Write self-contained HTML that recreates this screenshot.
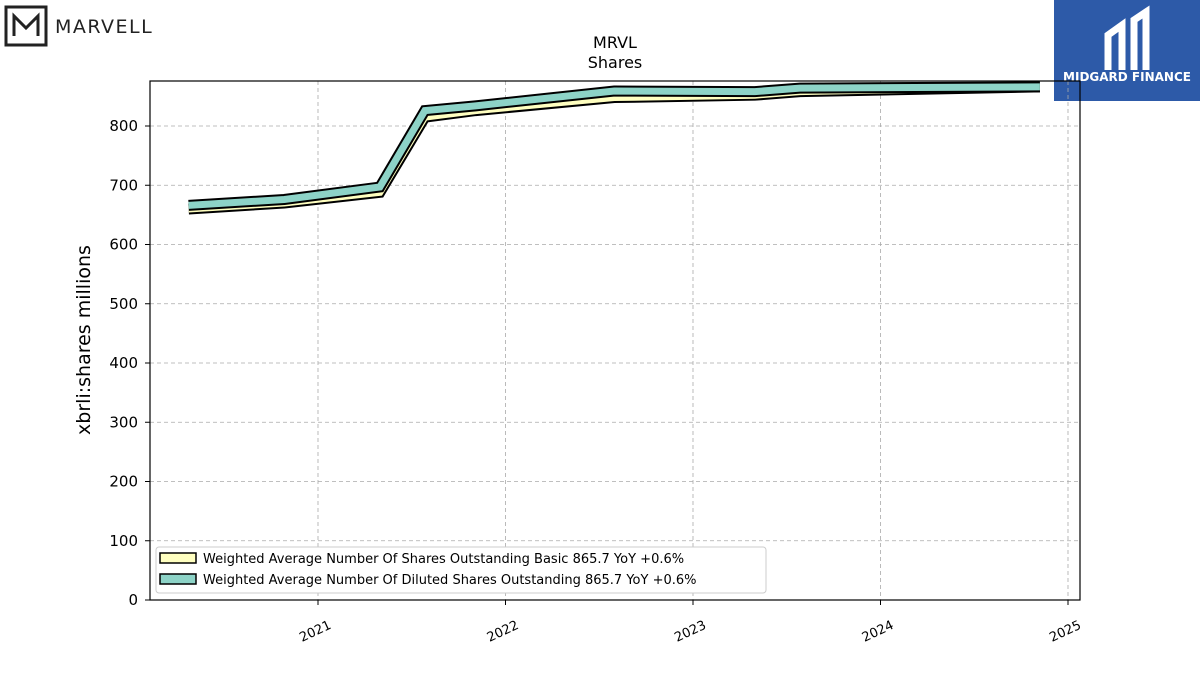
<!DOCTYPE html>
<html><head><meta charset="utf-8"><style>
body{margin:0;background:#fff;font-family:"Liberation Sans","DejaVu Sans",sans-serif}
</style></head><body>
<svg width="1200" height="675" xmlns="http://www.w3.org/2000/svg" font-family="DejaVu Sans, Liberation Sans, sans-serif">
<g>
<rect x="6" y="7" width="40" height="38" fill="none" stroke="#222" stroke-width="3"/>
<path d="M14 36 V16 L26 28 L38 16 V36" fill="none" stroke="#222" stroke-width="3"/>
<text x="55" y="33" font-size="19" letter-spacing="1.5" fill="#222">MARVELL</text>
</g>
<g>
<rect x="1054" y="0" width="146" height="101" fill="#2d5aa8"/>
<path d="M1108 70 V35 L1122 25 V70 M1134 70 V20 L1146 12 V70" stroke="#fff" stroke-width="7" fill="none"/>
<text x="1127" y="81" font-size="12" font-weight="bold" fill="#fff" text-anchor="middle">MIDGARD FINANCE</text>
</g>
<text x="615" y="48" font-size="16" text-anchor="middle">MRVL</text>
<text x="615" y="68" font-size="16" text-anchor="middle">Shares</text>
<g id="grid"></g>
<g id="lines"></g>
<rect x="150" y="81" width="930" height="519" fill="none" stroke="#000" stroke-width="1.2"/>
<g id="ticks"></g>
<text transform="translate(90,340) rotate(-90)" font-size="19" text-anchor="middle">xbrli:shares millions</text>
<g>
<rect x="156" y="547" width="610" height="46" rx="3" fill="#fff" stroke="#ccc"/>
<rect x="160" y="553" width="36" height="10" fill="#ffffc0" stroke="#000" stroke-width="1.5"/>
<text x="203" y="563" font-size="13">Weighted Average Number Of Shares Outstanding Basic  865.7 YoY +0.6%</text>
<rect x="160" y="574" width="36" height="10" fill="#8dd3c7" stroke="#000" stroke-width="1.5"/>
<text x="203" y="584" font-size="13">Weighted Average Number Of Diluted Shares Outstanding  865.7 YoY +0.6%</text>
</g>
</svg>
<script>
const dates=[2020.31,2020.82,2021.33,2021.57,2021.84,2022.58,2023.33,2023.57,2024.85];
const basic=[660,670,688,815,826,848,852,858,866];
const diluted=[666,676,697,826,834,859,858,864,866];
const yTicks=[0,100,200,300,400,500,600,700,800];
const xTicks=[2021,2022,2023,2024,2025];
const X=v=>318+(v-2021)*187.5, Y=v=>600-v*0.5925;
const ns="http://www.w3.org/2000/svg";
function mk(t,a,p){const e=document.createElementNS(ns,t);for(const k in a)e.setAttribute(k,a[k]);p.appendChild(e);return e;}
const g=document.getElementById('grid'),tk=document.getElementById('ticks'),ln=document.getElementById('lines');
yTicks.forEach(v=>{
 const l=mk('line',{x1:150,x2:1080,y1:Y(v),y2:Y(v),stroke:'#aaa','stroke-dasharray':'4,3','stroke-width':0.8},g);
 
 
 mk('line',{x1:145,x2:150,y1:Y(v),y2:Y(v),stroke:'#000'},tk);
 const t=mk('text',{x:138,y:Y(v)+5,'font-size':15,'text-anchor':'end'},tk);t.textContent=v;
 
 
});
xTicks.forEach(v=>{
 const l=mk('line',{x1:X(v),x2:X(v),y1:81,y2:600,stroke:'#aaa','stroke-dasharray':'4,3','stroke-width':0.8},g);
 
 
 mk('line',{x1:X(v),x2:X(v),y1:600,y2:605,stroke:'#000'},tk);
 const t=mk('text',{x:X(v)+14,y:628,'font-size':13,'text-anchor':'end',transform:`rotate(-25 ${X(v)+14} 628)`},tk);t.textContent=v;
 
 
});
[[basic,'#ffffc0','line-basic'],[diluted,'#8dd3c7','line-diluted']].forEach(([s,c,n])=>{
 const d=s.map((v,i)=>(i?'L':'M')+X(dates[i])+' '+Y(v)).join(' ');
 const grp=mk('g',{},ln);
 
 
 mk('path',{d:d,fill:'none',stroke:'#000','stroke-width':11,'stroke-linejoin':'miter'},grp);
 mk('path',{d:d,fill:'none',stroke:c,'stroke-width':7,'stroke-linejoin':'miter'},grp);
});
</script>
</body></html>
